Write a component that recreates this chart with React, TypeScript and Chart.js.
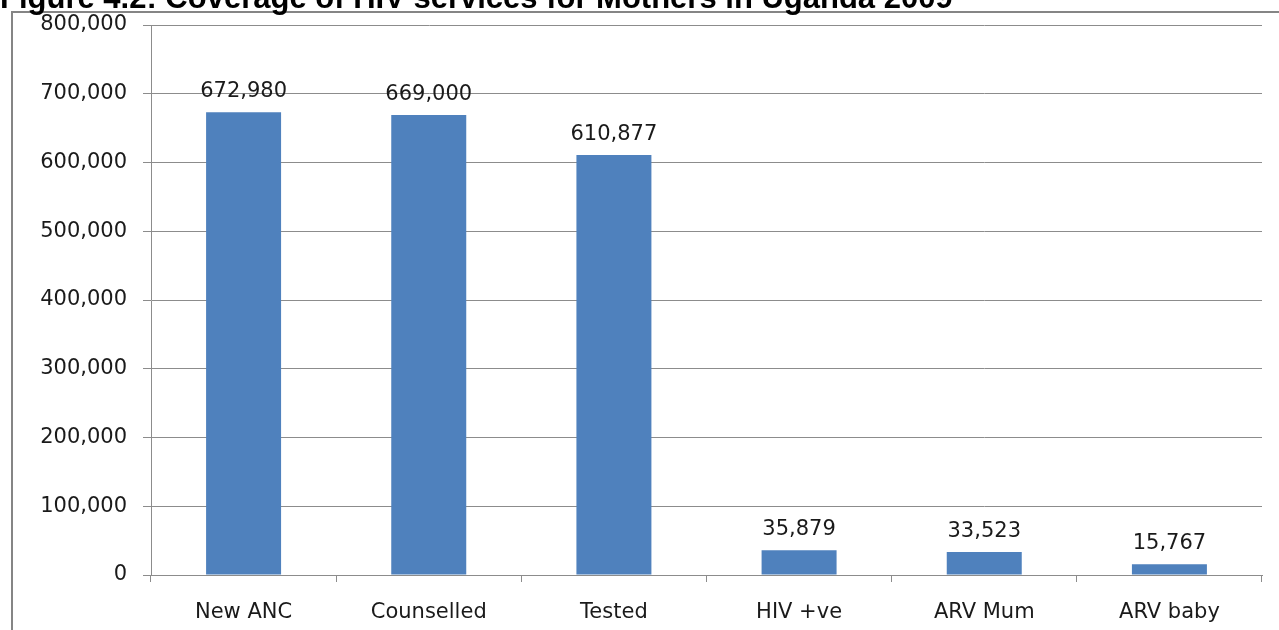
import React, { useEffect, useRef } from "react";
import { Chart, registerables } from "chart.js";

Chart.register(...registerables);

const TITLE = "Figure 4.2: Coverage of HIV services for Mothers in Uganda 2009";
const categories = ["New ANC", "Counselled", "Tested", "HIV +ve", "ARV Mum", "ARV baby"];
const values = [672980, 669000, 610877, 35879, 33523, 15767];
const yTicks = [0, 100000, 200000, 300000, 400000, 500000, 600000, 700000, 800000];

const FONT = "'DejaVu Sans', sans-serif";
const fmt = (v: number) => v.toLocaleString("en-US");

const framePlugin = {
  id: "frame",
  beforeDraw(chart: any) {
    const ctx = chart.ctx;
    ctx.save();
    ctx.fillStyle = "#ffffff";
    ctx.fillRect(0, 0, chart.width, chart.height);
    ctx.strokeStyle = "#858585";
    ctx.lineWidth = 2;
    ctx.beginPath();
    ctx.moveTo(12, chart.height);
    ctx.lineTo(12, 12);
    ctx.lineTo(chart.width, 12);
    ctx.stroke();
    ctx.fillStyle = "#000000";
    ctx.font = "bold 31px 'Liberation Sans', Arial, sans-serif";
    ctx.textAlign = "left";
    ctx.textBaseline = "alphabetic";
    ctx.fillText(TITLE, 0, 8);
    ctx.restore();
  },
};

const labelPlugin = {
  id: "barLabels",
  afterDatasetsDraw(chart: any) {
    const ctx = chart.ctx;
    const meta = chart.getDatasetMeta(0);
    ctx.save();
    ctx.fillStyle = "#1a1a1a";
    ctx.font = `21px ${FONT}`;
    ctx.textAlign = "center";
    ctx.textBaseline = "alphabetic";
    meta.data.forEach((bar: any, i: number) => {
      ctx.fillText(fmt(values[i]), bar.x, bar.y - 15);
    });
    ctx.restore();
  },
};

export default function App() {
  const ref = useRef<HTMLCanvasElement>(null);
  useEffect(() => {
    if (!ref.current) return;
    const chart = new Chart(ref.current, {
      type: "bar",
      data: {
        labels: categories,
        datasets: [
          {
            data: values,
            backgroundColor: "#4F81BD",
            borderWidth: 0,
            barPercentage: 0.81,
            categoryPercentage: 0.5,
          },
        ],
      },
      options: {
        animation: false,
        responsive: false,
        layout: { padding: { left: 12, right: 17, top: 25, bottom: 0 } },
        plugins: { legend: { display: false }, tooltip: { enabled: false }, title: { display: false } },
        scales: {
          x: {
            afterFit(scale: any) {
              scale.height = 55;
              scale.paddingLeft = 0;
              scale.paddingRight = 0;
            },
            grid: {
              offset: true,
              drawOnChartArea: false,
              drawTicks: true,
              tickLength: 7,
              color: "#8c8c8c",
            },
            border: { color: "#8c8c8c", width: 1 },
            ticks: {
              color: "#1a1a1a",
              font: { family: FONT, size: 21 },
              padding: 18,
              maxRotation: 0,
            },
          },
          y: {
            min: 0,
            max: 800000,
            afterFit(scale: any) {
              scale.width = 139;
              scale.paddingTop = 0;
              scale.paddingBottom = 0;
            },
            afterBuildTicks(scale: any) {
              scale.ticks = yTicks.map((v) => ({ value: v }));
            },
            grid: { color: "#8c8c8c", tickLength: 8 },
            border: { color: "#8c8c8c", width: 1 },
            ticks: {
              color: "#1a1a1a",
              font: { family: FONT, size: 21 },
              padding: 16,
              callback: (v: any) => fmt(Number(v)),
            },
          },
        },
      },
      plugins: [framePlugin, labelPlugin],
    });
    return () => chart.destroy();
  }, []);
  return (
    <div style={{ position: "fixed", left: 0, top: 0, width: 1279, height: 630, background: "#fff" }}>
      <canvas ref={ref} width={1279} height={630} style={{ display: "block" }} />
    </div>
  );
}
